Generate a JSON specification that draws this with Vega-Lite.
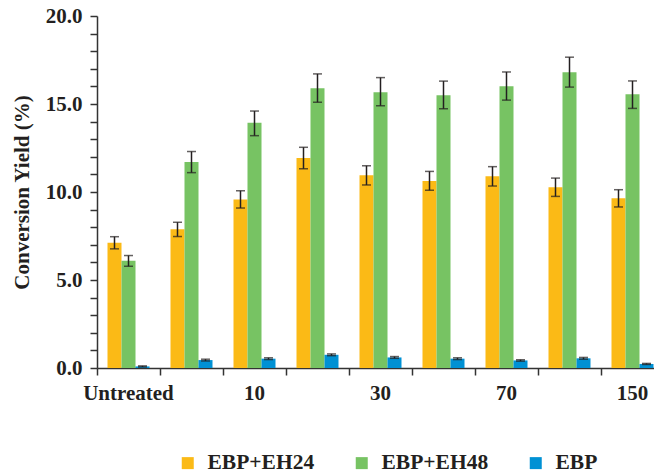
{
  "$schema": "https://vega.github.io/schema/vega-lite/v6.json",
  "width": 557,
  "height": 352,
  "autosize": {"type": "none"},
  "padding": {"left": 97, "top": 16, "right": 0, "bottom": 107},
  "background": "white",
  "config": {
    "view": {"stroke": null},
    "font": "Liberation Serif",
    "axis": {"labelFont": "Liberation Serif", "labelFontWeight": "bold", "labelFontSize": 21, "labelColor": "#231F20", "titleFont": "Liberation Serif", "titleFontWeight": "bold", "titleFontSize": 21, "titleColor": "#231F20", "domainColor": "#333333", "domainWidth": 1.5, "tickColor": "#333333", "tickWidth": 1.5, "grid": false, "labelOverlap": false},
    "legend": {"labelFont": "Liberation Serif", "labelFontWeight": "bold", "labelFontSize": 21.5, "labelColor": "#231F20"}
  },
  "data": {
    "values": [
      {"dose": "Untreated", "series": "EBP+EH24", "value": 7.12, "lo": 6.77, "hi": 7.46},
      {"dose": "Untreated", "series": "EBP+EH48", "value": 6.09, "lo": 5.78, "hi": 6.39},
      {"dose": "Untreated", "series": "EBP", "value": 0.09, "lo": 0.06, "hi": 0.12},
      {"dose": "5", "series": "EBP+EH24", "value": 7.88, "lo": 7.47, "hi": 8.28},
      {"dose": "5", "series": "EBP+EH48", "value": 11.7, "lo": 11.1, "hi": 12.3},
      {"dose": "5", "series": "EBP", "value": 0.45, "lo": 0.4, "hi": 0.5},
      {"dose": "10", "series": "EBP+EH24", "value": 9.58, "lo": 9.09, "hi": 10.07},
      {"dose": "10", "series": "EBP+EH48", "value": 13.93, "lo": 13.2, "hi": 14.6},
      {"dose": "10", "series": "EBP", "value": 0.53, "lo": 0.48, "hi": 0.58},
      {"dose": "20", "series": "EBP+EH24", "value": 11.93, "lo": 11.32, "hi": 12.54},
      {"dose": "20", "series": "EBP+EH48", "value": 15.9, "lo": 15.1, "hi": 16.71},
      {"dose": "20", "series": "EBP", "value": 0.75, "lo": 0.7, "hi": 0.8},
      {"dose": "30", "series": "EBP+EH24", "value": 10.95, "lo": 10.4, "hi": 11.49},
      {"dose": "30", "series": "EBP+EH48", "value": 15.67, "lo": 14.9, "hi": 16.5},
      {"dose": "30", "series": "EBP", "value": 0.6, "lo": 0.55, "hi": 0.65},
      {"dose": "50", "series": "EBP+EH24", "value": 10.62, "lo": 10.1, "hi": 11.17},
      {"dose": "50", "series": "EBP+EH48", "value": 15.5, "lo": 14.73, "hi": 16.3},
      {"dose": "50", "series": "EBP", "value": 0.53, "lo": 0.48, "hi": 0.58},
      {"dose": "70", "series": "EBP+EH24", "value": 10.89, "lo": 10.34, "hi": 11.44},
      {"dose": "70", "series": "EBP+EH48", "value": 16.01, "lo": 15.22, "hi": 16.82},
      {"dose": "70", "series": "EBP", "value": 0.43, "lo": 0.39, "hi": 0.47},
      {"dose": "100", "series": "EBP+EH24", "value": 10.27, "lo": 9.75, "hi": 10.79},
      {"dose": "100", "series": "EBP+EH48", "value": 16.81, "lo": 15.96, "hi": 17.66},
      {"dose": "100", "series": "EBP", "value": 0.55, "lo": 0.5, "hi": 0.6},
      {"dose": "150", "series": "EBP+EH24", "value": 9.64, "lo": 9.15, "hi": 10.13},
      {"dose": "150", "series": "EBP+EH48", "value": 15.56, "lo": 14.75, "hi": 16.31},
      {"dose": "150", "series": "EBP", "value": 0.23, "lo": 0.2, "hi": 0.26}
    ]
  },
  "encoding": {
    "x": {
      "field": "dose", "type": "nominal",
      "sort": ["Untreated", "5", "10", "20", "30", "50", "70", "100", "150"],
      "scale": {"range": [0, 567], "paddingInner": 0, "paddingOuter": 0},
      "axis": {"title": null, "labelAngle": 0, "bandPosition": 0, "tickSize": 7, "labelPadding": 7, "labelExpr": "indexof(['Untreated','10','30','70','150'], datum.label) >= 0 ? datum.label : ''"}
    },
    "xOffset": {"field": "series", "type": "nominal", "sort": ["EBP+EH24", "EBP+EH48", "EBP"], "scale": {"paddingInner": 0, "paddingOuter": 0.75}}
  },
  "layer": [
    {
      "mark": {"type": "bar", "clip": false},
      "encoding": {
        "y": {
          "field": "value", "type": "quantitative",
          "scale": {"domain": [0, 20], "nice": false},
          "axis": {"title": "Conversion Yield (%)", "values": [0,1,2,3,4,5,6,7,8,9,10,11,12,13,14,15,16,17,18,19,20], "labelExpr": "datum.value % 5 === 0 ? format(datum.value, '.1f') : ''", "tickSize": 7, "labelPadding": 8, "titlePadding": 13}
        },
        "color": {
          "field": "series", "type": "nominal",
          "sort": ["EBP+EH24", "EBP+EH48", "EBP"],
          "scale": {"domain": ["EBP+EH24", "EBP+EH48", "EBP"], "range": ["#FBBA16", "#77C363", "#0091D4"]},
          "legend": {"title": null, "orient": "none", "direction": "horizontal", "legendX": 80, "legendY": 436, "symbolType": "square", "symbolSize": 144, "symbolStrokeWidth": 0, "labelOffset": 9, "columnPadding": 36}
        }
      }
    },
    {
      "mark": {"type": "rule", "color": "#231F20", "strokeWidth": 1.5},
      "encoding": {
        "y": {"field": "lo", "type": "quantitative", "scale": {"domain": [0, 20], "nice": false},
          "axis": {"title": "Conversion Yield (%)", "values": [0,1,2,3,4,5,6,7,8,9,10,11,12,13,14,15,16,17,18,19,20], "labelExpr": "datum.value % 5 === 0 ? format(datum.value, '.1f') : ''", "tickSize": 7, "labelPadding": 8, "titlePadding": 13}},
        "y2": {"field": "hi"}
      }
    },
    {
      "mark": {"type": "tick", "color": "#231F20", "thickness": 1.5, "size": 9},
      "encoding": {"y": {"field": "lo", "type": "quantitative", "scale": {"domain": [0, 20], "nice": false},
          "axis": {"title": "Conversion Yield (%)", "values": [0,1,2,3,4,5,6,7,8,9,10,11,12,13,14,15,16,17,18,19,20], "labelExpr": "datum.value % 5 === 0 ? format(datum.value, '.1f') : ''", "tickSize": 7, "labelPadding": 8, "titlePadding": 13}}}
    },
    {
      "mark": {"type": "tick", "color": "#231F20", "thickness": 1.5, "size": 9},
      "encoding": {"y": {"field": "hi", "type": "quantitative", "scale": {"domain": [0, 20], "nice": false},
          "axis": {"title": "Conversion Yield (%)", "values": [0,1,2,3,4,5,6,7,8,9,10,11,12,13,14,15,16,17,18,19,20], "labelExpr": "datum.value % 5 === 0 ? format(datum.value, '.1f') : ''", "tickSize": 7, "labelPadding": 8, "titlePadding": 13}}}
    }
  ]
}
